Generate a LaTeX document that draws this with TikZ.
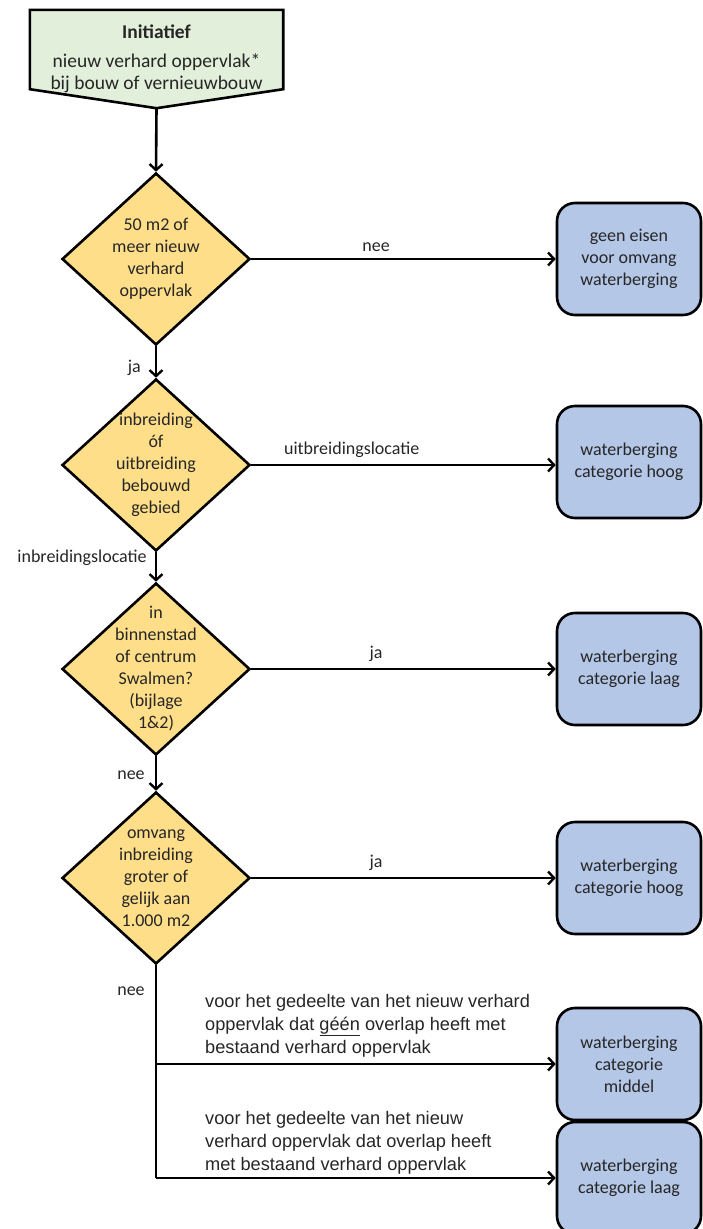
\documentclass[tikz,border=0pt]{standalone}
\usepackage{fontspec}
\setmainfont{Carlito}
\newfontfamily\arialfont{Liberation Sans}
\usepackage{tikz}
\usetikzlibrary{backgrounds}
\usetikzlibrary{arrows.meta}
\usetikzlibrary{shapes.geometric}
\usetikzlibrary{positioning}
\definecolor{startgreen}{RGB}{226,239,218}
\definecolor{askyellow}{RGB}{255,222,137}
\definecolor{endblue}{RGB}{180,199,231}
\colorlet{txt}{black!85}
\tikzstyle{base} = [font=\fontsize{18}{22}\selectfont, text=txt, align=center]
\tikzstyle{startcell} = [base, font=\fontsize{19.5}{22}\selectfont, rectangle, minimum width=253pt, minimum height=98pt, inner sep=0pt]
\tikzstyle{startline} = [draw=black, line width=2.6pt, fill=startgreen, line join=miter]
\tikzstyle{askcell} = [base, diamond, draw=black, line width=2.6pt, fill=askyellow, minimum width=188pt, minimum height=172pt, inner sep=-40pt]
\tikzstyle{endcell} = [base, rectangle, rounded corners=18pt, draw=black, line width=2.6pt, fill=endblue, minimum width=144pt, minimum height=112pt]
\tikzstyle{flow} = [line width=2.6pt, -{Straight Barb[length=6pt,width=13pt,line width=2.4pt]}]
\tikzstyle{lab} = [base, inner sep=2pt]
\tikzstyle{longlab} = [font=\arialfont\fontsize{18.2}{23}\selectfont, text=txt, align=left, inner sep=0pt, anchor=south west]

\begin{document}
\begin{tikzpicture}[x=1pt, y=1pt]
\useasboundingbox (0,0) rectangle (702,-1229);

% Start: initiative
\node[startcell] (n0) at (156.5,-59) {\textbf{Initiatief}\\[7pt]nieuw verhard oppervlak*\\bij bouw of vernieuwbouw};
\begin{scope}[on background layer]
\draw[startline] (n0.north west) -- (n0.north east) -- ([yshift=19pt]n0.south east) -- (n0.south) -- ([yshift=19pt]n0.south west) -- cycle;
\end{scope}
% Questions, main column
\node[askcell] (n1) at (156,-259) {50 m2 of\\meer nieuw\\verhard\\oppervlak};
\node[askcell] (n2) at (156,-465) {inbreiding\\óf\\uitbreiding\\bebouwd\\gebied};
\node[askcell] (n3) at (156,-669) {in\\binnenstad\\of centrum\\Swalmen?\\(bijlage\\1\&2)};
\node[askcell] (n4) at (156,-878) {omvang\\inbreiding\\groter of\\gelijk aan\\1.000 m2};
% Outcomes, right column
\node[endcell] (r1) at (629,-259) {geen eisen\\voor omvang\\waterberging};
\node[endcell] (r2) at (629,-462) {waterberging\\categorie hoog};
\node[endcell] (r3) at (629,-669) {waterberging\\categorie laag};
\node[endcell] (r4) at (629,-878) {waterberging\\categorie hoog};
\node[endcell] (r5) at (629,-1064) {waterberging\\categorie\\middel};
\node[endcell] (r6) at (629,-1178) {waterberging\\categorie laag};
% Split points below the last question
\coordinate (j5) at (n4.south |- r5.west);
\coordinate (j6) at (n4.south |- r6.west);

% Main column arrows
\draw[flow] (n0.south) -- (n1.north);
\draw[flow] (n1.south) -- node[lab, pos=0.7, left=12pt] {ja} (n2.north);
\draw[flow] (n2.south) -- node[lab, pos=0.2, left=6pt] {inbreidingslocatie} (n3.north);
\draw[flow] (n3.south) -- node[lab, pos=0.55, left=8pt] {nee} (n4.north);
% To the outcomes
\draw[flow] (n1.east) -- node[lab, pos=0.41, above=4pt] {nee} (r1.west |- n1.east);
\draw[flow] (n2.east) -- node[lab, pos=0.33, above=4pt] {uitbreidingslocatie} (r2.west |- n2.east);
\draw[flow] (n3.east) -- node[lab, pos=0.41, above=4pt] {ja} (r3.west |- n3.east);
\draw[flow] (n4.east) -- node[lab, pos=0.41, above=4pt] {ja} (r4.west |- n4.east);
% Last question splits in two parts
\draw[line width=2.6pt] (n4.south) -- node[lab, pos=0.12, left=8pt] {nee} (j6);
\draw[flow] (j6) -- (r6.west);
\draw[flow] (j5) -- (r5.west);
\node[longlab] (t5) at ([xshift=49pt, yshift=7pt]j5) {voor het gedeelte van het nieuw verhard\\oppervlak dat \underline{géén} overlap heeft met\\bestaand verhard oppervlak};
\node[longlab] (t6) at ([xshift=49pt, yshift=4pt]j6) {voor het gedeelte van het nieuw\\verhard oppervlak dat overlap heeft\\met bestaand verhard oppervlak};
\end{tikzpicture}
\end{document}
